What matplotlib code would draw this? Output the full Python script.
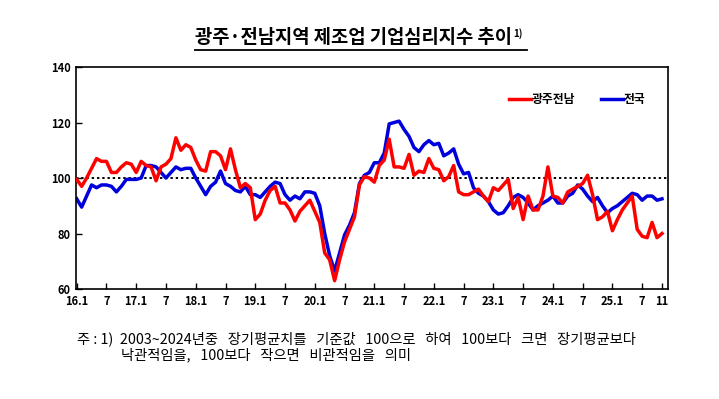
import matplotlib

matplotlib.use("Agg")
import matplotlib.pyplot as plt
from matplotlib.lines import Line2D

plt.rcParams["font.family"] = ["Noto Sans CJK KR", "DejaVu Sans"]

# monthly index, 2016.1 ~ 2025.11
gwangju = [
    99.5, 97, 100, 103.5, 107, 106, 106, 102, 102, 104, 105.5, 105,
    102, 106, 104.5, 104, 99, 104, 105, 107, 114.5, 110, 112, 111,
    106.5, 103, 102.5, 109.5, 109.5, 108, 103, 110.5, 103, 96.5, 98, 96.5,
    85, 87, 92, 95.5, 97, 91, 91, 88.5, 84.5, 88, 90, 92,
    88, 84, 73, 70.5, 63, 70.5, 77, 81.5, 86, 97.5, 100.5, 100,
    98.5, 104.5, 106.5, 114, 104, 104, 103.5, 108.5, 101, 102.5, 102, 107,
    103.5, 103, 99, 100.5, 104.5, 95, 94, 94, 95, 96, 93.5, 91.5,
    96.5, 95.5, 97.5, 99.5, 89, 93, 85, 93.5, 88.5, 88.5, 93.5, 104,
    93.5, 93, 91, 95, 96, 97, 98, 101, 94, 85, 86, 88,
    81, 85, 88.5, 91, 93.5, 81.5, 79, 78.5, 84, 78.5, 80,
]
national = [
    92.5, 89.5, 93.5, 97.5, 96.5, 97.5, 97.5, 97, 95, 97, 99.5, 99.5,
    99.5, 100, 104.5, 104.5, 104, 102, 100, 102, 104, 103, 103.5, 103.5,
    100, 97, 94, 97, 98.5, 102.5, 98, 97, 95.5, 95, 97, 94,
    94, 93, 95, 97, 98.5, 98, 94, 92, 93.5, 92.5, 95, 95,
    94.5, 90, 80, 72, 66.5, 73, 79.5, 83, 87.5, 98, 101, 102,
    105.5, 105.5, 109, 119.5, 120, 120.5, 117.5, 115, 111, 109.5, 112, 113.5,
    112, 112.5, 108, 109, 110.5, 105, 101.5, 102, 96.5, 94.5, 93.5, 91.5,
    88.5, 87, 87.5, 90, 93, 94, 93, 91, 88.5, 90, 91, 92,
    93.5, 91, 91, 93.5, 94.5, 97.5, 96, 93.5, 91.5, 93, 90, 87.5,
    89, 90, 91.5, 93, 94.5, 94, 92, 93.5, 93.5, 92, 92.5,
]
tick_pos = list(range(0, 115, 6)) + [118]
tick_labels = ["16.1", "7", "17.1", "7", "18.1", "7", "19.1", "7", "20.1", "7",
               "21.1", "7", "22.1", "7", "23.1", "7", "24.1", "7", "25.1", "7", "11"]
x = list(range(len(gwangju)))

fig = plt.figure(figsize=(7.19, 3.99), dpi=100)
ax = fig.add_axes([0.1053, 0.2757, 0.8237, 0.5563])

ax.axhline(100, color="black", lw=1.4, ls=(0, (1.2, 1.5)), zorder=1)
ax.plot(x, gwangju, color="#ff0000", lw=2.5, label="광주전남", zorder=3)
ax.plot(x, national, color="#0000dd", lw=2.5, label="전국", zorder=2)

ax.set_xlim(-0.2, 119.2)
ax.set_ylim(60, 140)
ax.set_yticks([60, 80, 100, 120, 140])
ax.set_xticks(tick_pos)
ax.set_xticklabels(tick_labels)
ax.tick_params(direction="in", length=4, width=1, labelsize=8)
ax.tick_params(axis="x", pad=4)
for lab in ax.get_xticklabels() + ax.get_yticklabels():
    lab.set_fontweight("bold")
for sp in ax.spines.values():
    sp.set_linewidth(1.2)

leg = ax.legend(loc="upper right", ncol=2, frameon=False, handlelength=1.8,
                handletextpad=0.1, columnspacing=2.2, bbox_to_anchor=(0.98, 0.93),
                prop={"weight": "bold", "size": 8.5})

title = fig.text(0.492, 0.907, "광주·전남지역 제조업 기업심리지수 추이", ha="center",
                 va="center", fontsize=13.5, fontweight="bold")
fig.canvas.draw()
bb = title.get_window_extent().transformed(fig.transFigure.inverted())
fig.text(bb.x1 + 0.002, bb.y1 - 0.002, "1)", fontsize=7, fontweight="bold", va="top")
fig.add_artist(Line2D([bb.x0, bb.x1 + 0.02], [bb.y0 - 0.008, bb.y0 - 0.008],
                      color="black", lw=1.3, transform=fig.transFigure))

fig.text(0.107, 0.151, "주 : 1)  2003~2024년중   장기평균치를   기준값   100으로   하여   100보다   크면   장기평균보다",
         fontsize=10.3, va="center")
fig.text(0.168, 0.110, "낙관적임을,   100보다   작으면   비관적임을   의미", fontsize=10.3, va="center")

fig.savefig("out.png", dpi=100)
plt.close(fig)
